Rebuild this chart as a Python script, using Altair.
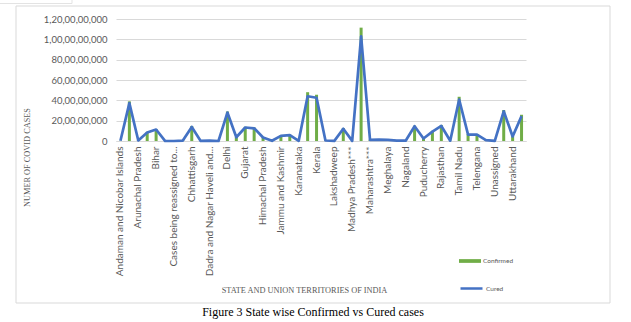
import altair as alt
import pandas as pd

states = [
    "Andaman and Nicobar Islands", "Andhra Pradesh", "Arunachal Pradesh", "Assam", "Bihar",
    "Bihar****", "Cases being reassigned to states", "Chandigarh", "Chhattisgarh",
    "Dadra and Nagar Haveli", "Dadra and Nagar Haveli and Daman and Diu", "Daman & Diu",
    "Delhi", "Goa", "Gujarat", "Haryana", "Himachal Pradesh", "Himanchal Pradesh",
    "Jammu and Kashmir", "Jharkhand", "Karanataka", "Karnataka", "Kerala", "Ladakh",
    "Lakshadweep", "Madhya Pradesh", "Madhya Pradesh***", "Maharashtra", "Maharashtra***",
    "Manipur", "Meghalaya", "Mizoram", "Nagaland", "Odisha", "Puducherry", "Punjab",
    "Rajasthan", "Sikkim", "Tamil Nadu", "Telangana", "Telengana", "Tripura", "Unassigned",
    "Uttar Pradesh", "Uttarakhand", "West Bengal",
]
# values in millions of cases
confirmed_m = [2, 390, 6, 90, 118, 1, 1, 5, 148, 1, 3, 0, 290, 40, 140, 132, 38, 2,
               55, 62, 2, 480, 455, 5, 1, 128, 1, 1115, 12, 14, 12, 5, 4, 150, 28, 100,
               158, 3, 435, 68, 66, 8, 2, 305, 48, 258]
cured_m = [2, 372, 5, 84, 113, 1, 0, 4, 138, 1, 3, 0, 280, 37, 133, 125, 35, 2,
           51, 58, 2, 440, 425, 5, 1, 120, 1, 1030, 12, 13, 11, 4, 3, 145, 25, 92,
           148, 3, 408, 62, 63, 8, 1, 292, 45, 245]

y_ticks = [0, 200000000, 400000000, 600000000, 800000000, 1000000000, 1200000000]
y_tick_labels = ["0", "20,00,00,000", "40,00,00,000", "60,00,00,000", "80,00,00,000",
                 "1,00,00,00,000", "1,20,00,00,000"]
x_shown = states[0::2]
y_title = "NUMER OF COVID CASES"
x_title = "STATE AND UNION TERRITORIES OF INDIA"
caption = "Figure 3 State wise Confirmed vs Cured cases"

df = pd.DataFrame({
    "state": states,
    "Confirmed": [v * 1_000_000 for v in confirmed_m],
    "Cured": [v * 1_000_000 for v in cured_m],
})

label_arr = "[" + ",".join("'" + s + "'" for s in y_tick_labels) + "]"

x_axis = alt.Axis(
    values=x_shown, labelAngle=-90, labelAlign="right", labelBaseline="middle",
    labelFont="Lato", labelFontSize=10, labelColor="#595959", labelPadding=5,
    labelLimit=200, labelOverlap=False,
    labelExpr=("datum.value == 'Cases being reassigned to states' ? 'Cases being reassigned to...' : "
               "datum.value == 'Dadra and Nagar Haveli and Daman and Diu' ? 'Dadra and Nagar Haveli and...' : datum.label"),
    ticks=False, grid=False, domainColor="#d9d9d9", domainWidth=1,
    title=x_title, titleFont="Liberation Serif", titleFontSize=8.3, titleFontWeight="normal",
    titleColor="#595959", titleX=188, titleY=149, titleAlign="center", titleBaseline="middle",
)
y_axis = alt.Axis(
    values=y_ticks, tickCount=7, labelExpr=label_arr + "[round(datum.value/200000000)]",
    labelFont="Lato", labelFontSize=9.5, labelColor="#595959", labelPadding=9,
    labelOverlap=False,
    ticks=False, domain=False, grid=True, gridColor="#d9d9d9", gridWidth=1,
    title=y_title, titleFont="Liberation Serif", titleFontSize=8.3,
    titleFontWeight="normal", titleColor="#595959", titleAngle=270,
    titleX=-89, titleY=138, titleAlign="center", titleBaseline="middle",
)

x_scale = alt.Scale(paddingInner=0, paddingOuter=0)
y_scale = alt.Scale(domain=[0, 1200000000], nice=False)

bars = alt.Chart(df).transform_calculate(series="'Confirmed'").mark_bar(size=3).encode(
    x=alt.X("state:N", sort=states, scale=x_scale, axis=x_axis),
    y=alt.Y("Confirmed:Q", scale=y_scale, axis=y_axis),
    color=alt.Color(
        "series:N",
        scale=alt.Scale(domain=["Confirmed"], range=["#70AD47"]),
        legend=alt.Legend(
            title=None, orient="none", legendX=343, legendY=231, padding=0,
            symbolType="M-1,-0.17H1V0.17H-1Z", symbolSize=484, symbolStrokeWidth=0,
            labelFont="Lato", labelFontSize=6.5, labelColor="#595959", labelOffset=2,
        ),
    ),
)

line = alt.Chart(df).transform_calculate(series="'Cured'").mark_line(
    strokeWidth=2.7, strokeJoin="round"
).encode(
    x=alt.X("state:N", sort=states, scale=x_scale, axis=x_axis),
    y=alt.Y("Cured:Q", scale=y_scale, axis=y_axis),
    stroke=alt.Stroke(
        "series:N",
        scale=alt.Scale(domain=["Cured"], range=["#4472C4"]),
        legend=alt.Legend(
            title=None, orient="none", legendX=343, legendY=257, padding=0,
            symbolType="stroke", symbolSize=484, symbolStrokeWidth=2.5,
            labelFont="Lato", labelFontSize=6.5, labelColor="#595959", labelOffset=2,
        ),
    ),
)

one = pd.DataFrame({"t": [caption]})
cap = alt.Chart(one).mark_text(
    font="Liberation Serif", fontSize=12, fontWeight="normal", color="#000000",
    align="center", baseline="middle"
).encode(text="t:N", x=alt.value(197), y=alt.value(293))

border = alt.Chart(one).mark_rect(fill=None, stroke="#d9d9d9", strokeWidth=1).encode(
    x=alt.value(-100), x2=alt.value(494), y=alt.value(-13), y2=alt.value(284)
)
corner = alt.Chart(one).mark_rect(fill=None, stroke="#e3e3e3", strokeWidth=1).encode(
    x=alt.value(-130), x2=alt.value(-44), y=alt.value(-40), y2=alt.value(-15.5)
)

chart = alt.layer(border, corner, bars, line, cap).resolve_scale(
    color="independent", stroke="independent"
).properties(
    width=410, height=122,
    autosize=alt.AutoSizeParams(type="none"),
    padding={"left": 116, "top": 19, "right": 105, "bottom": 181},
    background="white",
).configure_view(stroke=None)

chart.save("out.html", embed_options={"renderer": "svg", "actions": False})
